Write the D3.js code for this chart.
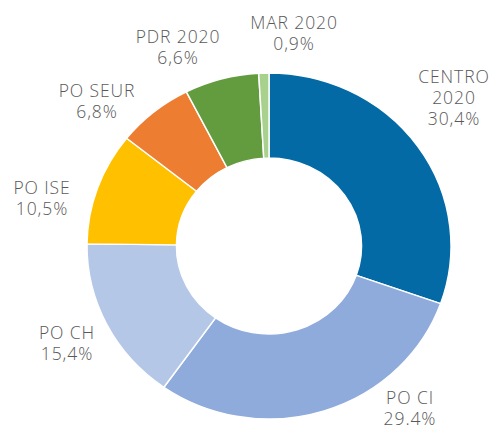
<!DOCTYPE html>
<html>
<head>
<meta charset="utf-8">
<script src="https://cdn.jsdelivr.net/npm/d3@7"></script>
<style>
  body { margin: 0; background: #fff; }
  svg { display: block; }
  .lbl { font-family: "Open Sans", sans-serif; font-weight: 300; font-size: 17.5px; letter-spacing: 0.9px; fill: #595959; }
</style>
</head>
<body>
<svg id="chart" width="492" height="427"></svg>
<script>
// data
var categories = ["CENTRO 2020", "PO CI", "PO CH", "PO ISE", "PO SEUR", "PDR 2020", "MAR 2020"];
var shares = [30.4, 29.4, 15.4, 10.5, 6.8, 6.6, 0.9];
var labelLines = [
  ["CENTRO", "2020", "30,4%"],
  ["PO CI", "29.4%"],
  ["PO CH", "15,4%"],
  ["PO ISE", "10,5%"],
  ["PO SEUR", "6,8%"],
  ["PDR 2020", "6,6%"],
  ["MAR 2020", "0,9%"]
];
var colors = ["#046aa6", "#8eabdc", "#b4c7e7", "#ffc000", "#ed7d31", "#629c3f", "#a9d18e"];

// layout: label block centres, offset from the donut centre
var labelOffset = [[185, -148], [141, 162], [-202, 97], [-227, -48], [-172, -145], [-91, -199], [25, -213]];

var cx = 269, cy = 246;
var outerR = 173, innerR = 88, squash = 182 / 173; // the donut is a little wider than tall
var lineH = 21;

var svg = d3.select("#chart");

var pie = d3.pie().sort(null).value(function(d) { return d; });
var arc = d3.arc().innerRadius(innerR).outerRadius(outerR);

var g = svg.append("g")
  .attr("transform", "translate(" + cx + "," + cy + ") scale(" + squash + ",1)");

g.selectAll("path")
  .data(pie(shares)).enter().append("path")
  .attr("d", arc)
  .attr("fill", function(d, i) { return colors[i]; })
  .attr("stroke", "#fff")
  .attr("stroke-width", 1.4);

var labels = svg.append("g").attr("transform", "translate(" + cx + "," + cy + ")");
labelLines.forEach(function(lines, i) {
  var top = labelOffset[i][1] - (lines.length - 1) * lineH / 2;
  lines.forEach(function(s, j) {
    labels.append("text")
      .attr("class", "lbl")
      .attr("text-anchor", "middle")
      .attr("x", labelOffset[i][0])
      .attr("y", top + j * lineH)
      .attr("dy", "0.35em")
      .text(s);
  });
});
</script>
</body>
</html>
